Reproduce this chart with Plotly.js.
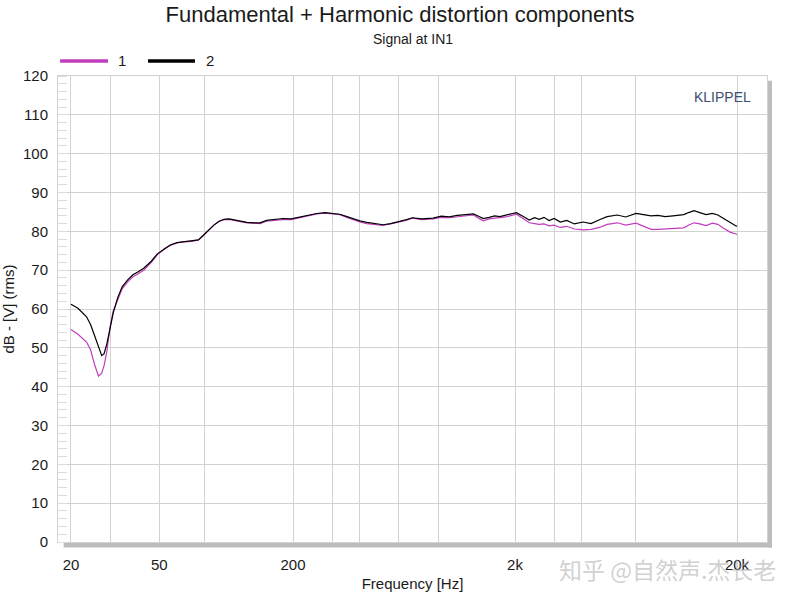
<!DOCTYPE html>
<html>
<head>
<meta charset="utf-8">
<script src="https://cdn.plot.ly/plotly-3.0.1.min.js"></script>
<style>html,body{margin:0;padding:0;background:#fff;}#chart{width:800px;height:600px;}</style>
</head>
<body>
<div id="chart"></div>
<script>
// Frequency points (Hz)
const freq = [20, 21.5, 23.5, 24.5, 25.6, 26.6, 27.5, 28.2, 29, 30, 31, 32.5, 34, 36, 38, 40, 42.5, 46, 49, 53, 56, 60, 64, 70, 75, 79, 83, 88, 93, 98, 103, 110, 117, 124, 133, 142, 152, 165, 180, 196, 214, 235, 256, 279, 300, 325, 350, 375, 400, 430, 470, 509, 550, 604, 650, 690, 760, 855, 930, 1010, 1100, 1200, 1300, 1370, 1440, 1530, 1620, 1710, 1850, 2030, 2150, 2320, 2450, 2570, 2700, 2850, 3000, 3200, 3420, 3700, 4050, 4400, 4800, 5200, 5780, 6300, 7020, 7600, 8200, 8800, 9500, 10300, 11500, 12200, 12800, 13600, 14500, 15500, 16400, 17400, 18600, 19800, 20000];

// Series 1 (magenta), dB
const series1 = [54.7, 53.5, 51.5, 49.5, 45.5, 42.7, 43.5, 45.5, 49, 55.4, 59.5, 62.5, 65.2, 67.0, 68.3, 69.0, 70.0, 72.0, 74.0, 75.5, 76.4, 77.0, 77.3, 77.4, 77.8, 79.0, 80.3, 81.6, 82.6, 83.0, 83.1, 82.8, 82.4, 82.2, 82.1, 82.0, 82.6, 82.8, 83.0, 83.0, 83.5, 84.0, 84.5, 84.7, 84.6, 84.3, 83.6, 82.9, 82.4, 82.0, 81.7, 81.5, 81.9, 82.4, 82.9, 83.4, 83.0, 83.2, 83.6, 83.5, 83.8, 84.0, 84.2, 83.4, 82.7, 83.2, 83.4, 83.4, 83.8, 84.4, 83.4, 82.2, 82.0, 81.8, 81.9, 81.4, 81.6, 81.0, 81.3, 80.6, 80.4, 80.5, 81.0, 81.8, 82.2, 81.6, 82.1, 81.2, 80.5, 80.5, 80.6, 80.6, 80.9, 81.7, 82.2, 81.9, 81.5, 82.1, 81.8, 80.8, 79.8, 79.3, 79.2];

// Series 2 (black), dB
const series2 = [61.2, 60.2, 58.0, 56.0, 53.0, 50.0, 48.0, 48.5, 51, 55, 59, 63, 65.7, 67.5, 68.8, 69.5, 70.5, 72.3, 74.2, 75.6, 76.5, 77.1, 77.3, 77.4, 77.8, 79.0, 80.3, 81.6, 82.6, 83.1, 83.2, 82.9, 82.5, 82.3, 82.2, 82.2, 82.8, 83.0, 83.3, 83.2, 83.7, 84.2, 84.6, 84.8, 84.7, 84.4, 83.8, 83.2, 82.7, 82.3, 81.9, 81.7, 82.0, 82.5, 83.0, 83.5, 83.2, 83.4, 83.9, 83.7, 84.1, 84.3, 84.5, 83.9, 83.3, 83.6, 84.0, 83.8, 84.2, 84.8, 84.0, 82.9, 83.5, 83.1, 83.6, 82.8, 83.3, 82.4, 82.8, 81.9, 82.4, 82.0, 83.0, 83.8, 84.2, 83.7, 84.6, 84.2, 84.0, 84.1, 83.8, 84.0, 84.3, 84.9, 85.3, 84.8, 84.3, 84.6, 84.2, 83.3, 82.2, 81.4, 81.3];

const seriesNames = ['1', '2'];
const xTickVals = [20, 30, 50, 80, 200, 300, 400, 600, 900, 2000, 3000, 4000, 7000, 20000];
const xTickText = ['20', '', '50', '', '200', '', '', '', '', '2k', '', '', '', '20k'];
const yTickVals = [0, 10, 20, 30, 40, 50, 60, 70, 80, 90, 100, 110, 120];

const magenta = '#c23cbe';
const colors = [magenta, '#000000'];
const FONT = 'Liberation Sans, Arial, sans-serif';
const TXT = '#1a1a1a';

const traces = [series1, series2].map((s, i) => ({
  x: freq, y: s, type: 'scatter', mode: 'lines', name: seriesNames[i],
  line: {color: colors[i], width: 1.2}, showlegend: false
}));

// custom legend (decoration) in paper coordinates
const legendShapes = [];
const legendAnn = [];
const legX = [[0.003, 0.0705, 0.0903], [0.127, 0.1932, 0.2144]];
seriesNames.forEach((n, i) => {
  legendShapes.push({type: 'line', xref: 'paper', yref: 'paper', x0: legX[i][0], x1: legX[i][1], y0: 1.0322, y1: 1.0322, line: {color: colors[i], width: 3.5}});
  legendAnn.push({text: n, xref: 'paper', yref: 'paper', x: legX[i][2], y: 1.0322, xanchor: 'center', yanchor: 'middle', showarrow: false, font: {family: FONT, size: 15, color: TXT}});
});

const layout = {
  width: 800, height: 600,
  margin: {l: 58, r: 33, t: 76, b: 58},
  paper_bgcolor: '#ffffff', plot_bgcolor: '#ffffff',
  font: {family: FONT, color: TXT, size: 15},
  title: {text: 'Fundamental + Harmonic distortion components', font: {family: FONT, size: 22, color: TXT}, x: 0.5, xanchor: 'center', y: 0.977, yanchor: 'middle'},
  showlegend: false,
  xaxis: {
    type: 'log', range: [1.2425, 4.4361],
    tickmode: 'array', tickvals: xTickVals, ticktext: xTickText,
    showgrid: true, gridcolor: '#d2d2d2', gridwidth: 1,
    showline: true, linecolor: '#d2d2d2', mirror: true,
    ticks: '', zeroline: false, ticklabelstandoff: 9,
    tickfont: {family: FONT, size: 15, color: TXT},
    title: {text: 'Frequency [Hz]', font: {family: FONT, size: 15, color: TXT}, standoff: 6}
  },
  yaxis: {
    range: [0, 120], tickmode: 'array', tickvals: yTickVals,
    showgrid: true, gridcolor: '#d2d2d2', gridwidth: 1,
    showline: true, linecolor: '#d2d2d2', mirror: true,
    ticks: '', zeroline: false, ticklabelstandoff: 6,
    minor: {dtick: 2, ticks: 'inside', ticklen: 9, tickcolor: '#dcdcdc', showgrid: false},
    tickfont: {family: FONT, size: 15, color: TXT},
    title: {text: 'dB - [V] (rms)', font: {family: FONT, size: 15, color: TXT}, standoff: 8}
  },
  shapes: [
    {type: 'rect', xref: 'paper', yref: 'paper', x0: 0.008, x1: 1.007, y0: -0.012, y1: 0, fillcolor: '#bdbdbd', line: {width: 0}, layer: 'below'},
    {type: 'rect', xref: 'paper', yref: 'paper', x0: 1.0, x1: 1.007, y0: -0.012, y1: 0.99, fillcolor: '#bdbdbd', line: {width: 0}, layer: 'below'}
  ].concat(legendShapes),
  annotations: [
    {text: 'Signal at IN1', xref: 'paper', yref: 'paper', x: 0.5, y: 1.0, xanchor: 'center', yanchor: 'bottom', yshift: 27, showarrow: false, font: {family: FONT, size: 14, color: TXT}},
    {text: 'KLIPPEL', xref: 'paper', yref: 'paper', x: 0.98, y: 0.955, xanchor: 'right', yanchor: 'middle', showarrow: false, font: {family: FONT, size: 14, color: '#3e4e70'}},
    {text: '知乎 @自然声.杰长老', xref: 'paper', yref: 'paper', x: 1.0, y: 0, xanchor: 'center', yanchor: 'top', xshift: -100, yshift: -8, showarrow: false, font: {family: 'Noto Sans CJK SC, sans-serif', size: 23, color: 'rgba(170,170,170,0.55)'}}
  ].concat(legendAnn)
};

Plotly.newPlot('chart', traces, layout, {displayModeBar: false, staticPlot: true});
</script>
</body>
</html>
